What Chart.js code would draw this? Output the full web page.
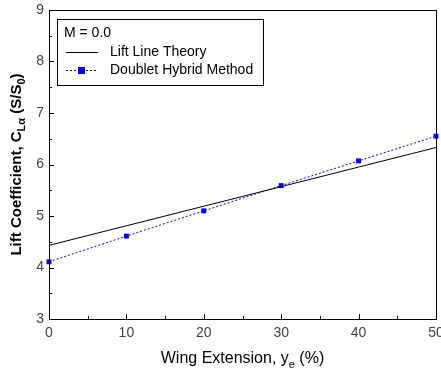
<!DOCTYPE html>
<html lang="en">
<head>
  <meta charset="UTF-8">
  <title>Lift Coefficient vs Wing Extension</title>
  <script src="https://cdn.jsdelivr.net/npm/chart.js"></script>
  <style>
    body { margin: 0; background: #fff; }
    .chart-container { width: 441px; height: 378px; }
  </style>
</head>
<body>
  <div class="chart-container">
    <canvas id="myChart" width="441" height="378"></canvas>
  </div>
  <script>
    const extension = [0, 10, 20, 30, 40, 50];
    const liftLine = [4.43, 4.81, 5.19, 5.57, 5.95, 6.33];
    const doublet = [4.11, 4.61, 5.10, 5.59, 6.07, 6.55];
    const legendTitle = 'M = 0.0';
    const seriesNames = ['Lift Line Theory', 'Doublet Hybrid Method'];

    const font = '"Liberation Sans", Arial, sans-serif';

    // draw text with subscripts: parts = [[text, isSub], ...]
    function richText(ctx, parts, x, y, size, weight) {
      const big = weight + ' ' + size + 'px ' + font;
      const small = weight + ' ' + Math.round(size * 0.7) + 'px ' + font;
      let w = 0;
      parts.forEach(p => { ctx.font = p[1] ? small : big; w += ctx.measureText(p[0]).width; });
      let cx = x - w / 2;
      ctx.textAlign = 'left';
      ctx.textBaseline = 'middle';
      parts.forEach(p => {
        ctx.font = p[1] ? small : big;
        ctx.fillText(p[0], cx, p[1] ? y + size * 0.35 : y);
        cx += ctx.measureText(p[0]).width;
      });
    }

    const decor = {
      id: 'decor',
      afterDraw(chart) {
        const ctx = chart.ctx;
        const a = chart.chartArea;
        const xs = chart.scales.x, ys = chart.scales.y;
        ctx.save();
        ctx.strokeStyle = '#000';
        ctx.lineWidth = 1;
        ctx.strokeRect(a.left + 0.5, a.top + 0.5, a.right - a.left, a.bottom - a.top);
        // inward ticks
        ctx.beginPath();
        for (let v = 0; v <= 50; v += 5) {
          const px = Math.round(xs.getPixelForValue(v)) + 0.5;
          const len = v % 10 === 0 ? 5 : 3;
          ctx.moveTo(px, a.bottom);
          ctx.lineTo(px, a.bottom - len);
        }
        for (let v = 3; v <= 9; v += 0.5) {
          const py = Math.round(ys.getPixelForValue(v)) + 0.5;
          const len = v % 1 === 0 ? 5 : 3;
          ctx.moveTo(a.left, py);
          ctx.lineTo(a.left + len, py);
        }
        ctx.stroke();

        ctx.fillStyle = '#000';
        richText(ctx, [['Wing Extension, y', false], ['e', true], [' (%)', false]],
          (a.left + a.right) / 2, 359, 16, 'normal');
        ctx.save();
        ctx.translate(17, (a.top + a.bottom) / 2);
        ctx.rotate(-Math.PI / 2);
        richText(ctx, [['Lift Coefficient, C', false], ['L\u03b1', true], [' (S/S', false], ['0', true], [')', false]],
          0, 0, 15, 'bold');
        ctx.restore();

        // legend box
        const lx = 57, ly = 19, lw = 206, lh = 66;
        ctx.fillStyle = '#fff';
        ctx.fillRect(lx, ly, lw, lh);
        ctx.strokeRect(lx + 0.5, ly + 0.5, lw, lh);
        ctx.fillStyle = '#000';
        ctx.font = '14px ' + font;
        ctx.textAlign = 'left';
        ctx.textBaseline = 'middle';
        ctx.fillText(legendTitle, lx + 7, ly + 14);
        const ds = chart.data.datasets;
        [0, 1].forEach(i => {
          const y = ly + 33 + i * 18 + 0.5;
          ctx.beginPath();
          ctx.strokeStyle = ds[i].borderColor;
          ctx.setLineDash(ds[i].borderDash || []);
          ctx.moveTo(lx + 9, y);
          ctx.lineTo(lx + 41, y);
          ctx.stroke();
          ctx.setLineDash([]);
          if (ds[i].pointRadius > 0) {
            ctx.fillStyle = ds[i].pointBackgroundColor;
            ctx.fillRect(lx + 21, y - 3.5, 7, 7);
          }
          ctx.fillStyle = '#000';
          ctx.fillText(ds[i].label, lx + 53, y);
        });
        ctx.restore();
      }
    };

    const ctx = document.getElementById('myChart').getContext('2d');
    new Chart(ctx, {
      type: 'line',
      data: {
        datasets: [{
          label: seriesNames[0],
          data: extension.map((x, i) => ({ x: x, y: liftLine[i] })),
          borderColor: '#000',
          borderWidth: 1,
          pointRadius: 0,
          fill: false
        }, {
          label: seriesNames[1],
          data: extension.map((x, i) => ({ x: x, y: doublet[i] })),
          borderColor: '#0000ff',
          borderWidth: 1,
          borderDash: [2, 2],
          pointStyle: 'rect',
          pointRadius: 3.5,
          pointBackgroundColor: '#0000ff',
          pointBorderColor: '#0000ff',
          pointBorderWidth: 0,
          fill: false
        }]
      },
      options: {
        responsive: false,
        animation: false,
        clip: false,
        layout: { padding: { top: 10, right: 5, left: 0, bottom: 0 } },
        plugins: { legend: { display: false }, tooltip: { enabled: false } },
        scales: {
          x: {
            type: 'linear', min: 0, max: 50,
            afterFit(s) { s.height = 59; s.paddingLeft = 0; s.paddingRight = 0; },
            grid: { display: false, drawTicks: false },
            border: { display: false },
            ticks: { stepSize: 10, color: '#444', padding: 6, font: { family: font, size: 14 } }
          },
          y: {
            min: 3, max: 9,
            afterFit(s) { s.width = 49; s.paddingTop = 0; s.paddingBottom = 0; },
            grid: { display: false, drawTicks: false },
            border: { display: false },
            ticks: { stepSize: 1, color: '#444', padding: 5, font: { family: font, size: 14 } }
          }
        }
      },
      plugins: [decor]
    });
  </script>
</body>
</html>
